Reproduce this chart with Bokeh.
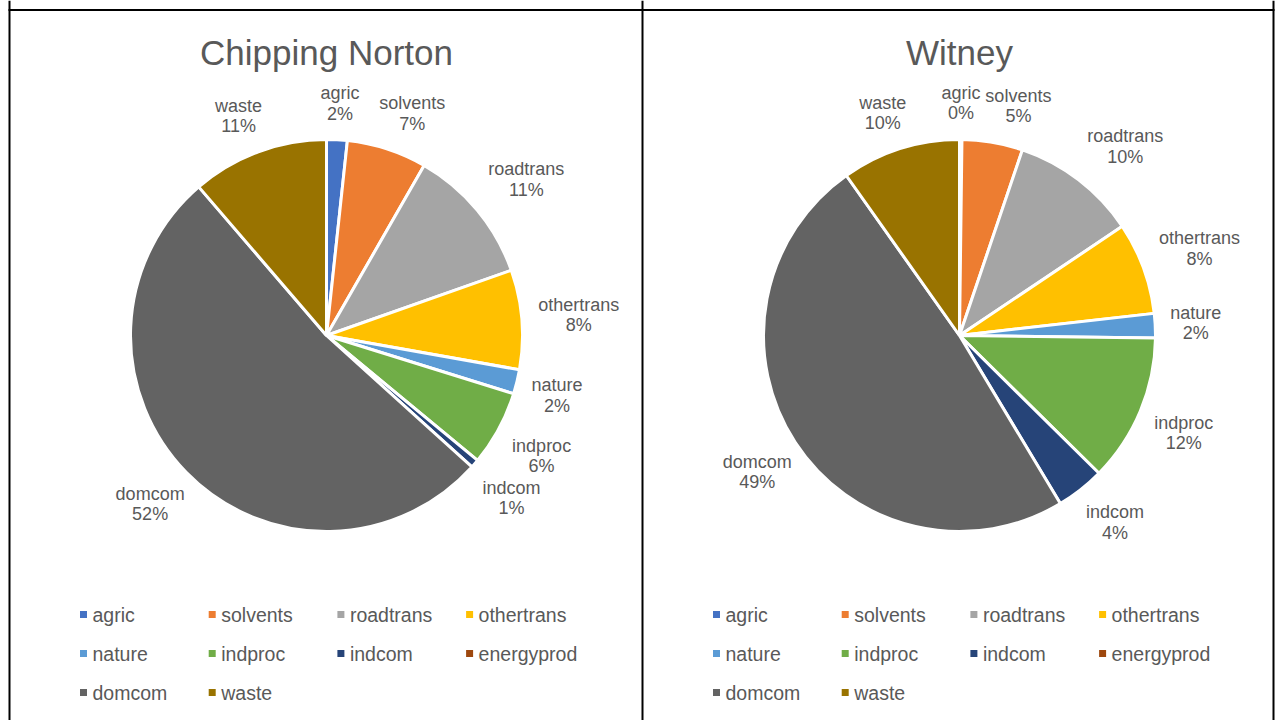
import math
from bokeh.plotting import figure
from bokeh.models import Range1d, Span, ColumnDataSource
from bokeh.core.properties import value
from bokeh.embed import file_html
from bokeh.resources import INLINE

# ---------------- data ----------------
categories = ["agric", "solvents", "roadtrans", "othertrans", "nature",
              "indproc", "indcom", "energyprod", "domcom", "waste"]
colors = ["#4472C4", "#ED7D31", "#A5A5A5", "#FFC000", "#5B9BD5",
          "#70AD47", "#264478", "#9E480E", "#636363", "#997300"]
chipping_norton = [1.7, 6.6, 11.3, 8.2, 2.0, 6.2, 0.7, 0.0, 52.0, 11.3]
witney = [0.2, 5.0, 10.4, 7.6, 2.0, 12.2, 4.0, 0.0, 48.8, 9.8]
titles = ["Chipping Norton", "Witney"]

# ---------------- layout constants (page pixels, y measured up) ----------------
W, H = 1277, 720
FONT = "Liberation Sans"
TXT = "#595959"
R = 196
CENTERS = [(326, H - 335), (959, H - 335)]
LABEL_SIZE = "18px"
LEGEND_SIZE = "19.5px"
CHAR_W = 8.2
LINE_H = 20.5
GAP = 16
PAD = 4

p = figure(width=W, height=H, x_range=Range1d(0, W), y_range=Range1d(0, H),
           output_backend="svg", toolbar_location=None,
           x_axis_type=None, y_axis_type=None, min_border=0,
           outline_line_color=None, background_fill_color="white")
p.grid.visible = False

# panel borders
p.segment(x0=[8], y0=[H - 9.5], x1=[1274], y1=[H - 9.5], line_color="black", line_width=2)
for loc in [9, 642, 1273]:
    p.add_layout(Span(location=loc, dimension="height", line_color="black", line_width=2))


def clamp(v):
    return max(-1.0, min(1.0, v))


def draw_pie(vals, cx, cy, title):
    total = float(sum(vals))
    starts, ends, cols, names = [], [], [], []
    cum = 0.0
    for name, v, c in zip(categories, vals, colors):
        a0 = math.pi / 2 - cum / total * 2 * math.pi
        cum += v
        a1 = math.pi / 2 - cum / total * 2 * math.pi
        if v > 0:
            starts.append(a0); ends.append(a1); cols.append(c); names.append(name)
    src = ColumnDataSource(dict(start=starts, end=ends, color=cols, name=names))
    p.wedge(x=cx, y=cy, radius=R, start_angle="start", end_angle="end",
            direction="clock", fill_color="color", line_color="white",
            line_width=3, source=src)

    # data labels (outside end, nudged apart where they collide)
    boxes = []
    cum = 0.0
    for name, v in zip(categories, vals):
        if v <= 0:
            cum += v
            continue
        mid = (cum + v / 2) / total * 2 * math.pi
        cum += v
        ux, uy = math.sin(mid), math.cos(mid)
        pct = f"{round(v / total * 100)}%"
        w = CHAR_W * max(len(name), len(pct))
        h = LINE_H * 2
        bx = cx + (R + GAP) * ux + w / 2 * clamp(2 * ux)
        by = cy + (R + GAP) * uy + h / 2 * clamp(2 * uy)
        boxes.append([bx, by, w, h, name, pct])
    for _ in range(50):
        moved = False
        for i in range(len(boxes)):
            for j in range(i + 1, len(boxes)):
                a, b = boxes[i], boxes[j]
                ox = (a[2] + b[2]) / 2 + PAD - abs(a[0] - b[0])
                oy = (a[3] + b[3]) / 2 + 1 - abs(a[1] - b[1])
                if ox > 0 and oy > 0:
                    if oy < ox:
                        b[1] += oy if b[1] > a[1] else -oy
                    elif b[0] >= cx:
                        b[0] += ox
                    else:
                        a[0] -= ox
                    moved = True
        if not moved:
            break
    lx = [bx[0] for bx in boxes]
    p.text(x=lx, y=[bx[1] + LINE_H / 2 for bx in boxes], text=[bx[4] for bx in boxes],
           text_font=value(FONT), text_font_size=LABEL_SIZE, text_color=TXT,
           text_align="center", text_baseline="middle")
    p.text(x=lx, y=[bx[1] - LINE_H / 2 for bx in boxes], text=[bx[5] for bx in boxes],
           text_font=value(FONT), text_font_size=LABEL_SIZE, text_color=TXT,
           text_align="center", text_baseline="middle")

    # title
    p.text(x=[cx], y=[H - 52], text=[title], text_font=value(FONT),
           text_font_size="35px", text_color=TXT, text_align="center",
           text_baseline="middle")

    # legend
    mx, my, tx, ty = [], [], [], []
    for i, name in enumerate(categories):
        row, col = divmod(i, 4)
        x0 = cx - 234 + col * 128.7
        y0 = H - 614 - row * 39
        mx.append(x0 - 9); my.append(y0)
        tx.append(x0); ty.append(y0)
    p.scatter(x=mx, y=my, marker="square", size=7, fill_color=colors,
              line_color=None)
    p.text(x=tx, y=ty, text=categories, text_font=value(FONT),
           text_font_size=LEGEND_SIZE, text_color=TXT, text_align="left",
           text_baseline="middle")


for vals, (cx, cy), t in zip([chipping_norton, witney], CENTERS, titles):
    draw_pie(vals, cx, cy, t)

open("out.html", "w").write(file_html(p, INLINE))
